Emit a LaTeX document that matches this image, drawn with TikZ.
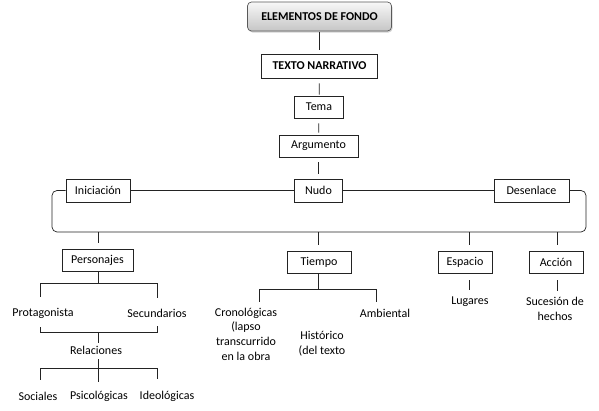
\documentclass[tikz,border=0pt]{standalone}
\usepackage{fontspec}
\setmainfont{Carlito}
\usetikzlibrary{positioning}
\usetikzlibrary{calc}
\usetikzlibrary{shadows}
\definecolor{lineColor}{RGB}{35,35,35}
\tikzset{
  box/.style={draw=lineColor, line width=0.7pt, inner sep=0pt, minimum height=22pt,
    font=\fontsize{12}{14.6}\selectfont},
  titlebox/.style={box, rounded corners=4pt, draw=gray!70!black, top color=gray!6,
    bottom color=gray!45, drop shadow={shadow xshift=1pt, shadow yshift=-1.5pt, opacity=.35},
    font=\fontsize{12}{14.6}\selectfont\bfseries},
  txt/.style={inner sep=0pt, font=\fontsize{12}{14.6}\selectfont, align=center},
  link/.style={draw=lineColor, line width=0.7pt},
}
\begin{document}
\begin{tikzpicture}[x=1pt,y=-1pt]
\useasboundingbox (0,0) rectangle (599,410);

\node[titlebox, minimum width=144pt, minimum height=29pt] (fondo) at (319.5,16.5) {ELEMENTOS DE FONDO};
\node[box, font=\fontsize{12}{14.6}\selectfont\bfseries, minimum width=116pt, minimum height=24pt] (texto) at (319.5,66) {TEXTO NARRATIVO};
\node[box, minimum width=49pt] (tema) at (319,107) {Tema};
\node[box, minimum width=79pt] (argumento) at (318.5,146) {Argumento};
\node[box, minimum width=64pt, minimum height=23pt] (iniciacion) at (98,190.5) {Iniciación};
\node[box, minimum width=48pt, minimum height=23pt] (nudo) at (318.5,190.5) {Nudo};
\node[box, minimum width=75pt, minimum height=23pt] (desenlace) at (531.5,190.5) {Desenlace};
\node[box, minimum width=71pt] (personajes) at (97.5,260) {Personajes};
\node[box, minimum width=64pt] (tiempo) at (319,262) {Tiempo};
\node[box, minimum width=54pt] (espacio) at (465,262) {Espacio};
\node[box, minimum width=54pt] (accion) at (556,262) {Acción};

\node[txt] (protagonista) at (43,313) {Protagonista};
\node[txt] (secundarios) at (157,313) {Secundarios};
\node[txt] (relaciones) at (96,350) {Relaciones};
\node[txt] (sociales) at (38,396) {Sociales};
\node[txt] (psicologicas) at (99,396) {Psicológicas};
\node[txt] (ideologicas) at (167,396) {Ideológicas};
\node[txt] (cronologicas) at (246,334) {Cronológicas\\(lapso\\transcurrido\\en la obra};
\node[txt] (historico) at (322,343.5) {Histórico\\(del texto};
\node[txt] (ambiental) at (385,313) {Ambiental};
\node[txt] (lugares) at (470,302) {Lugares};
\node[txt] (sucesion) at (555,309) {Sucesión de\\hechos};

\coordinate (barL) at (52,232);
\coordinate (barR) at (586,232);
\coordinate (b1) at (98,232);
\coordinate (b2) at (318.5,232);
\coordinate (b3) at (469,232);
\coordinate (b4) at (557,232);
\coordinate (p1) at (40,283);
\coordinate (p2) at (157,283);
\coordinate (q1) at (40,332);
\coordinate (q2) at (157,332);
\coordinate (r1) at (40,368);
\coordinate (r2) at (157,368);
\coordinate (t1) at (259,289);
\coordinate (t2) at (376,289);

\draw[link, shorten <=1pt, shorten >=4pt] (fondo) -- (texto);
\draw[link, shorten <=5pt, shorten >=1pt] (texto) -- (tema);
\draw[link, shorten <=5pt, shorten >=2pt] (tema) -- (argumento);
\draw[link, shorten <=5pt, shorten >=5pt] (argumento) -- (nudo);

\draw[link] (iniciacion) -- (nudo);
\draw[link] (nudo) -- (desenlace);
\draw[link, rounded corners=5pt] (iniciacion.west) -| (barL) -- (barR) |- (desenlace.east);

\draw[link, shorten >=6pt] (b1) -- (b1 |- personajes.north);
\draw[link, shorten >=6pt] (b2) -- (b2 |- tiempo.north);
\draw[link, shorten >=6pt] (b3) -- (b3 |- espacio.north);
\draw[link, shorten >=6pt] (b4) -- (b4 |- accion.north);

\draw[link] (personajes.south -| b1) -- (p1 -| b1);
\draw[link, shorten <=11pt, shorten >=11pt] (protagonista.north -| p1) -- (p1) -- (p2) -- (secundarios.north -| p2);
\draw[link, shorten <=9pt, shorten >=9pt] (protagonista.south -| q1) -- (q1) -- (q2) -- (secundarios.south -| q2);
\draw[link, shorten >=3pt] (q1 -| b1) -- (relaciones.north -| b1);
\draw[link, shorten <=5pt, shorten >=9pt] (relaciones.south -| b1) -- (psicologicas.north -| b1);
\draw[link, shorten <=12pt, shorten >=12pt] (sociales.north -| r1) -- (r1) -- (r2) -- (ideologicas.north -| r2);

\draw[link] (tiempo.south -| b2) -- (t1 -| b2);
\draw[link, shorten <=6pt, shorten >=7pt] (cronologicas.north -| t1) -- (t1) -- (t2) -- (ambiental.north -| t2);

\draw[link, shorten <=7pt, shorten >=7pt] (espacio.south -| b3) -- (lugares.north -| b3);
\draw[link, shorten <=7pt, shorten >=6pt] (accion.south -| b4) -- (sucesion.north -| b4);
\end{tikzpicture}
\end{document}
